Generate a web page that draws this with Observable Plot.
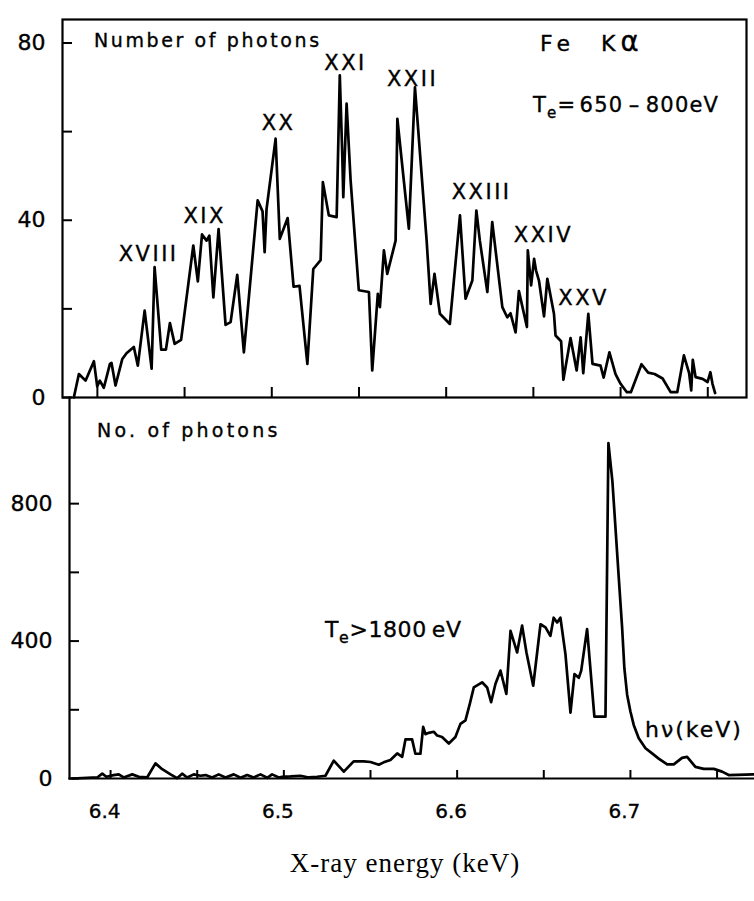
<!DOCTYPE html>
<html>
<head>
<meta charset="utf-8">
<script src="https://cdn.jsdelivr.net/npm/d3@7"></script>
<script src="https://cdn.jsdelivr.net/npm/@observablehq/plot@0.6"></script>
<style>
  html, body { margin: 0; padding: 0; background: #fff; }
  #wrap { position: relative; width: 754px; height: 901px; overflow: hidden; background: #fff; color: #000; font-family: "DejaVu Sans", sans-serif; }
  #top { position: absolute; left: 0; top: 0; }
  #bottom { position: absolute; left: 0; top: 390px; }
  .ann { position: absolute; line-height: 1; white-space: nowrap; font-family: "DejaVu Sans", sans-serif; color: #000; -webkit-text-stroke: 0.35px #000; }
  .sub { font-size: 0.72em; position: relative; top: 0.38em; }
  svg text { stroke: #000; stroke-width: 0.35px; }
</style>
</head>
<body>
<div id="wrap"><div id="top"></div><div id="bottom"></div></div>
<script>
// ---------- Top panel: T_e = 650-800 eV (Number of photons vs X-ray energy, keV) ----------
const topEnergy = [6.3865,6.3894,6.3932,6.3980,6.3999,6.4014,6.4037,6.4072,6.4081,6.4104,
  6.4143,6.4167,6.4209,6.4232,6.4271,6.4311,6.4328,6.4366,6.4393,6.4416,
  6.4443,6.4480,6.4550,6.4576,6.4600,6.4626,6.4642,6.4665,6.4695,6.4735,
  6.4764,6.4802,6.4840,6.4919,6.4947,6.4959,6.4970,6.5022,6.5046,6.5091,
  6.5125,6.5159,6.5204,6.5238,6.5280,6.5293,6.5327,6.5372,6.5390,6.5404,
  6.5410,6.5429,6.5452,6.5499,6.5557,6.5576,6.5608,6.5620,6.5643,6.5662,
  6.5710,6.5720,6.5786,6.5821,6.5888,6.5911,6.5933,6.5964,6.6021,6.6079,
  6.6111,6.6150,6.6173,6.6193,6.6236,6.6264,6.6322,6.6350,6.6369,6.6398,
  6.6417,6.6463,6.6468,6.6487,6.6504,6.6515,6.6532,6.6561,6.6580,6.6618,
  6.6627,6.6659,6.6672,6.6713,6.6748,6.6771,6.6786,6.6815,6.6839,6.6885,
  6.6903,6.6936,6.6971,6.7000,6.7036,6.7059,6.7120,6.7158,6.7195,6.7241,
  6.7287,6.7325,6.7363,6.7393,6.7405,6.7414,6.7430,6.7470,6.7499,6.7515,
  6.7527,6.7542];
const topCounts = [0,5.3,3.8,8.2,2.5,3.8,2.2,7.6,7.8,2.7,
  8.7,10,11.4,7.2,19.6,6.5,29.4,10.8,10.8,16.8,
  12.1,13,34.3,26.2,36.8,35.4,36.5,22.6,38,16.4,
  17,27.7,10.2,44.5,42,32.8,42.5,58.4,35.8,40.5,
  25,25.2,7.6,29,31,48.6,41.1,40.7,72.7,55,
  45.2,66.3,49,24.2,23.8,6.1,23.4,20.4,33.2,27.9,
  35.4,62.9,38.1,70,35.4,21.1,27.9,18.9,16.6,41.1,
  22.3,26.4,42.2,35.4,23.8,39.6,20.4,18.1,19,14.7,
  24,15.9,33.2,25.3,31.3,28.7,26.4,18.3,26.8,18.9,
  14,12.7,4,13.4,6.1,13.6,5.5,18.9,7.6,7.2,
  4.5,10.2,5.3,3.1,1.2,1.2,7.5,5.6,5.3,4.3,
  1.2,1.2,9.5,5.5,1.6,8.5,4.6,4.2,3.5,5.7,
  3.1,1];

// ion stage labels (Fe charge states) placed over their peaks
const ionLabels = ["XVIII","XIX","XX","XXI","XXII","XXIII","XXIV","XXV"];
const ionEnergy = [6.4294,6.4615,6.5039,6.5423,6.5807,6.6203,6.6558,6.6788];
const ionCount  = [30.9,39.3,60.3,73.8,70.2,44.9,35.0,20.8];

// ---------- Bottom panel: T_e > 1800 eV ----------
const bottomEnergy = [6.3778,6.3923,6.3952,6.3976,6.4018,6.4047,6.4076,6.4125,6.4163,6.4211,
  6.4259,6.4298,6.4346,6.4384,6.4413,6.4442,6.4480,6.4519,6.4548,6.4586,
  6.4624,6.4663,6.4711,6.4750,6.4788,6.4826,6.4865,6.4904,6.4932,6.4971,
  6.4990,6.5038,6.5096,6.5144,6.5192,6.5240,6.5288,6.5346,6.5403,6.5461,
  6.5500,6.5548,6.5576,6.5615,6.5654,6.5683,6.5702,6.5740,6.5759,6.5788,
  6.5804,6.5817,6.5836,6.5865,6.5885,6.5913,6.5952,6.5990,6.6019,6.6048,
  6.6073,6.6096,6.6144,6.6173,6.6196,6.6221,6.6250,6.6284,6.6308,6.6346,
  6.6375,6.6400,6.6439,6.6481,6.6510,6.6538,6.6557,6.6577,6.6596,6.6625,
  6.6654,6.6677,6.6702,6.6716,6.6750,6.6792,6.6856,6.6873,6.6896,6.6932,
  6.6952,6.6965,6.6981,6.7000,6.7019,6.7048,6.7087,6.7125,6.7163,6.7212,
  6.7250,6.7298,6.7327,6.7375,6.7423,6.7481,6.7529,6.7567,6.7711];
const bottomCounts = [0,3,14,5,10,12,3,12,5,3,
  44,27,12,1,14,3,12,8,10,3,
  12,3,12,2,10,3,12,2,12,3,
  5,6,8,3,5,8,52,20,50,50,
  48,40,47,54,73,63,114,114,72,72,
  150,129,133,136,125,121,102,121,159,169,
  217,265,280,265,222,275,314,246,430,367,
  445,367,270,449,440,415,468,454,468,362,
  192,304,293,314,435,180,180,976,865,590,
  440,321,244,195,156,117,88,73,58,41,
  41,60,63,34,28,28,20,10,12];

// ---------- axes / ticks ----------
const topXDomain = [6.3800, 6.7722];
const topYDomain = [0, 85.3];
const topYTicks = [0, 20, 40, 60, 80];
const topYLabels = [0, 40, 80];
const bottomXDomain = [6.3763, 6.7716];
const bottomYDomain = [0, 1109];
const bottomYTicks = [0, 200, 400, 600, 800];
const bottomYLabels = [0, 400, 800];
const xTicks = [6.40, 6.45, 6.50, 6.55, 6.60, 6.65, 6.70, 6.75];
const xLabels = [6.4, 6.5, 6.6, 6.7];

const topData = topEnergy.map((e, i) => ({e, c: topCounts[i]}));
const bottomData = bottomEnergy.map((e, i) => ({e, c: bottomCounts[i]}));
const ionData = ionLabels.map((label, i) => ({label, e: ionEnergy[i], c: ionCount[i]}));

const FONT = '"DejaVu Sans", sans-serif';

// top plot geometry
const TW = 754, TH = 400, TML = 62, TMR = 8, TMT = 19, TMB = 3;
const tInnerW = TW - TML - TMR, tInnerH = TH - TMT - TMB;

const topChart = Plot.plot({
  width: TW, height: TH,
  marginTop: TMT, marginBottom: TMB, marginLeft: TML, marginRight: TMR,
  x: {domain: topXDomain, axis: null},
  y: {domain: topYDomain},
  style: {fontFamily: FONT, background: "transparent", color: "#000", overflow: "visible"},
  marks: [
    Plot.frame({stroke: "#000", strokeWidth: 2.2}),
    Plot.tickY(topYTicks, {y: d => d, stroke: "#000", strokeWidth: 2, insetRight: tInnerW - 10}),
    Plot.tickX(xTicks, {x: d => d, stroke: "#000", strokeWidth: 2, insetTop: tInnerH - 10}),
    Plot.axisY(topYLabels, {tickSize: 0, tickPadding: 17, fontSize: 22, label: null, tickFormat: d => String(d)}),
    Plot.line(topData, {x: "e", y: "c", stroke: "#000", strokeWidth: 2.7}),
    Plot.text(ionData, {x: "e", y: "c", text: "label", fontSize: 21, lineAnchor: "bottom", fill: "#000"})
  ]
});
d3.select(topChart).selectAll('g[aria-label="text"] text').attr("letter-spacing", "2.5px");
document.getElementById("top").appendChild(topChart);

// bottom plot geometry
const BW = 754, BH = 450, BML = 69, BMR = 0, BMT = 7, BMB = 62;
const bInnerW = BW - BML - BMR, bInnerH = BH - BMT - BMB;

const bottomChart = Plot.plot({
  width: BW, height: BH,
  marginTop: BMT, marginBottom: BMB, marginLeft: BML, marginRight: BMR,
  x: {domain: bottomXDomain},
  y: {domain: bottomYDomain},
  style: {fontFamily: FONT, background: "transparent", color: "#000", overflow: "visible"},
  marks: [
    Plot.frame({anchor: "left", stroke: "#000", strokeWidth: 2.2}),
    Plot.frame({anchor: "bottom", stroke: "#000", strokeWidth: 2.2}),
    Plot.tickY(bottomYTicks, {y: d => d, stroke: "#000", strokeWidth: 2, insetRight: bInnerW - 10}),
    Plot.tickX(xTicks, {x: d => d, stroke: "#000", strokeWidth: 2, insetTop: bInnerH - 8}),
    Plot.axisY(bottomYLabels, {tickSize: 0, tickPadding: 17, fontSize: 22, label: null, tickFormat: d => String(d)}),
    Plot.axisX(xLabels, {tickSize: 0, tickPadding: 25, fontSize: 20, dx: -6, label: null, tickFormat: d => d.toFixed(1)}),
    Plot.line(bottomData, {x: "e", y: "c", stroke: "#000", strokeWidth: 2.7})
  ]
});
document.getElementById("bottom").appendChild(bottomChart);

// ---------- text annotations ----------
const wrap = document.getElementById("wrap");
function annotate(html, left, baseline, size, spacing, family) {
  const d = document.createElement("div");
  d.className = "ann";
  d.innerHTML = html;
  const asc = family ? 0.8375 : 0.846;
  d.style.left = left + "px";
  d.style.top = (baseline - asc * size) + "px";
  d.style.fontSize = size + "px";
  d.style.letterSpacing = spacing + "px";
  if (family) d.style.fontFamily = family;
  wrap.appendChild(d);
  return d;
}
annotate("Number of photons", 94, 47, 19, 2.6);
annotate('Fe<span style="display:inline-block;width:26px"></span>K<span style="font-size:1.25em">α</span>', 540, 47, 22, 5);
annotate('T<span class="sub">e</span>=&#8202;650&#8201;–&#8201;800eV', 533, 113, 21, 1.2);
annotate("No. of photons", 97, 437, 19, 3.2);
annotate('T<span class="sub">e</span>&gt;1800&#8201;eV', 325, 638, 22, 0.6);
annotate("hν(keV)", 645, 738, 22, 2);
const cap = annotate("X-ray energy (keV)", 205, 873, 27, 1, '"Liberation Serif", "Times New Roman", serif');
cap.style.width = "400px";
cap.style.textAlign = "center";
cap.style.webkitTextStroke = "0px";
</script>
</body>
</html>
